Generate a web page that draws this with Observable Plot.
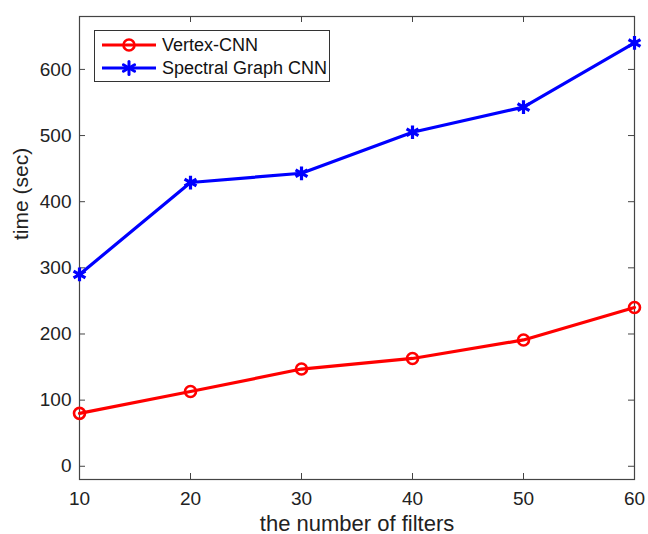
<!DOCTYPE html>
<html>
<head>
<meta charset="utf-8">
<script src="https://cdn.jsdelivr.net/npm/d3@7"></script>
<script src="https://cdn.jsdelivr.net/npm/@observablehq/plot@0.6"></script>
<style>
  html, body { margin: 0; padding: 0; background: #fff; }
  #wrap { position: relative; width: 648px; height: 534px; overflow: hidden; font-family: "Liberation Sans", Arial, sans-serif; }
  #legend { position: absolute; left: 94px; top: 30px; width: 234px; height: 50px; border: 1px solid #333; background: #fff; box-sizing: content-box; }
  .row { position: absolute; left: 0; height: 24px; display: flex; align-items: center; font-size: 18px; color: #111; white-space: nowrap; }
  .row svg { margin-left: 7px; margin-right: 6px; }
</style>
</head>
<body>
<div id="wrap"></div>
<script>
const filters = [10, 20, 30, 40, 50, 60];
const vertexCNN = [80, 113, 147, 163, 191, 240];
const spectralCNN = [290, 429, 443, 505, 543, 640];
const seriesNames = ["Vertex-CNN", "Spectral Graph CNN"];
const seriesColors = ["#ff0000", "#0000ff"];
const xTicks = [10, 20, 30, 40, 50, 60];
const yTicks = [0, 100, 200, 300, 400, 500, 600];
const xLabel = "the number of filters";
const yLabel = "time (sec)";

const W = 648, H = 534;
const mL = 79, mR = 14, mT = 16, mB = 55;
const fw = W - mL - mR, fh = H - mT - mB;
const tk = 6;

const vData = filters.map((f, i) => ({x: f, y: vertexCNN[i], s: seriesNames[0]}));
const sData = filters.map((f, i) => ({x: f, y: spectralCNN[i], s: seriesNames[1]}));

const chart = Plot.plot({
  width: W, height: H,
  marginLeft: mL, marginRight: mR, marginTop: mT, marginBottom: mB,
  style: {fontFamily: "Liberation Sans, Arial, sans-serif", fontSize: "19px", color: "#222", background: "#fff"},
  x: {domain: [10, 60]},
  y: {domain: [-20, 680]},
  marks: [
    Plot.axisX(xTicks, {tickSize: 0, tickPadding: 12, label: null, fontSize: 19, fill: "#222"}),
    Plot.axisY(yTicks, {tickSize: 0, tickPadding: 8, label: null, fontSize: 19, fill: "#222"}),
    Plot.ruleX(xTicks, {x: d => d, insetTop: fh - tk, stroke: "#444", strokeWidth: 1}),
    Plot.ruleX(xTicks, {x: d => d, insetBottom: fh - tk, stroke: "#444", strokeWidth: 1}),
    Plot.ruleY(yTicks, {y: d => d, insetRight: fw - tk, stroke: "#444", strokeWidth: 1}),
    Plot.ruleY(yTicks, {y: d => d, insetLeft: fw - tk, stroke: "#444", strokeWidth: 1}),
    Plot.frame({stroke: "#444", strokeWidth: 1.2}),
    Plot.line(vData, {x: "x", y: "y", stroke: seriesColors[0], strokeWidth: 3.2}),
    Plot.dot(vData, {x: "x", y: "y", stroke: seriesColors[0], r: 5.5, strokeWidth: 2.6, fill: "none"}),
    Plot.line(sData, {x: "x", y: "y", stroke: seriesColors[1], strokeWidth: 3.2}),
    Plot.dot(sData, {x: "x", y: "y", stroke: seriesColors[1], symbol: "asterisk", r: 6.5, strokeWidth: 3.2}),
    Plot.text([xLabel], {frameAnchor: "bottom", dy: 51, text: d => d, fontSize: 22, fill: "#222"}),
    Plot.text([yLabel], {frameAnchor: "left", dx: -58, dy: -8, rotate: -90, text: d => d, fontSize: 21, fill: "#222"})
  ]
});

const wrap = document.getElementById("wrap");
wrap.appendChild(chart);

const legend = document.createElement("div");
legend.id = "legend";
seriesNames.forEach((name, i) => {
  const row = document.createElement("div");
  row.className = "row";
  row.style.top = (2 + i * 23) + "px";
  const marker = i === 0
    ? `<circle cx="27" cy="10" r="5.5" fill="none" stroke="${seriesColors[i]}" stroke-width="2.6"/>`
    : `<g stroke="${seriesColors[i]}" stroke-width="3" stroke-linecap="round"><line x1="27" y1="3.5" x2="27" y2="16.5"/><line x1="21.4" y1="6.75" x2="32.6" y2="13.25"/><line x1="21.4" y1="13.25" x2="32.6" y2="6.75"/></g>`;
  row.innerHTML = `<svg width="54" height="20"><line x1="0" y1="10" x2="54" y2="10" stroke="${seriesColors[i]}" stroke-width="3.2"/>${marker}</svg><span>${name}</span>`;
  legend.appendChild(row);
});
wrap.appendChild(legend);
</script>
</body>
</html>
